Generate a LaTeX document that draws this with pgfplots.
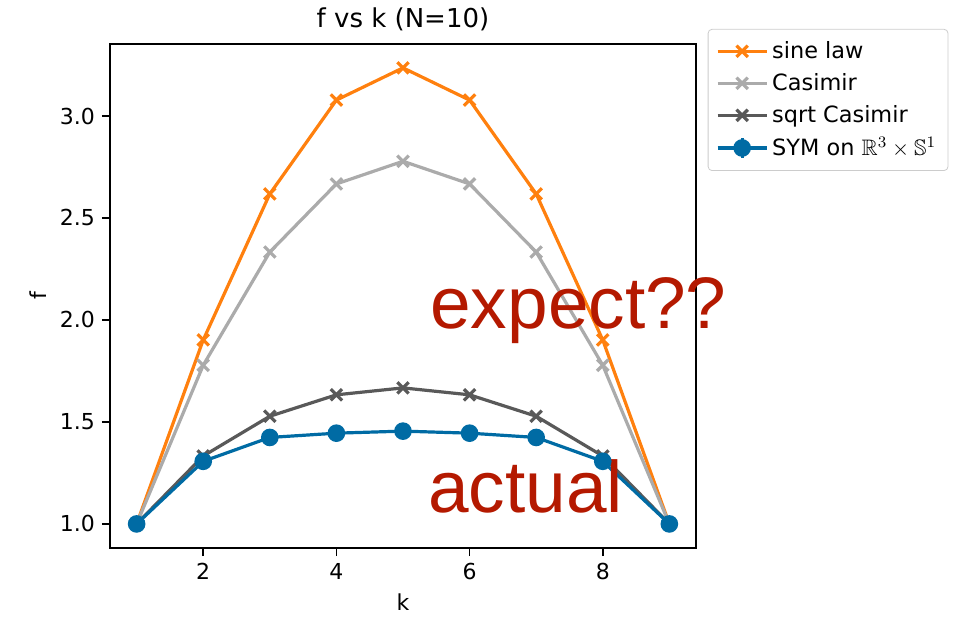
\documentclass[border=0pt]{standalone}
\usepackage{pgfplots}
\pgfplotsset{compat=1.18}
\usepackage{amssymb}
\usepackage{fontspec}
\setmainfont{DejaVu Sans}
\newfontfamily\bigfont{Liberation Sans}

\definecolor{cbblue}{HTML}{006BA4}
\definecolor{cborange}{HTML}{FF800E}
\definecolor{cblgray}{HTML}{ABABAB}
\definecolor{cbdgray}{HTML}{595959}
\definecolor{annred}{RGB}{180,25,0}

\begin{document}
\begin{tikzpicture}
\begin{axis}[
  at={(0,0)}, anchor=south west,
  scale only axis,
  width=293pt, height=252pt,
  xmin=0.6, xmax=9.4,
  ymin=0.882, ymax=3.353,
  clip=false,
  xtick={2,4,6,8},
  ytick={1.0,1.5,2.0,2.5,3.0},
  yticklabel style={/pgf/number format/.cd, fixed, fixed zerofill, precision=1},
  tick align=outside,
  tick pos=left,
  major tick length=4pt,
  ticklabel style={font=\fontsize{11}{13}\selectfont},
  /pgf/number format/assume math mode=true,
  title={f vs k (N=10)},
  title style={font=\fontsize{13}{15}\selectfont, yshift=-3pt},
  xlabel={k}, ylabel={f},
  label style={font=\fontsize{11}{13}\selectfont},
  axis line style={line width=0.8pt},
  every tick/.style={black, line width=0.8pt},
  legend style={at={(rel axis cs:1.02,1.03)}, anchor=north west,
    draw=black!20, rounded corners=2pt, font=\fontsize{11.2}{14}\selectfont,
    row sep=2pt, inner sep=4pt,
    /tikz/every even column/.append style={column sep=4pt}},
  legend cell align=left,
  legend image code/.code={
    \draw[mark repeat=2, mark phase=2] plot coordinates {(0cm,0cm) (0.43cm,0cm) (0.86cm,0cm)};
  },
  legend image post style={line width=1.6pt},
]
\addplot[cborange, line width=1.6pt, mark=x, mark size=4pt]
  coordinates {(1,1.0) (2,1.902) (3,2.618) (4,3.078) (5,3.236) (6,3.078) (7,2.618) (8,1.902) (9,1.0)};
\addlegendentry{sine law}
\addplot[cblgray, line width=1.6pt, mark=x, mark size=4pt]
  coordinates {(1,1.0) (2,1.778) (3,2.333) (4,2.667) (5,2.778) (6,2.667) (7,2.333) (8,1.778) (9,1.0)};
\addlegendentry{Casimir}
\addplot[cbdgray, line width=1.6pt, mark=x, mark size=4pt]
  coordinates {(1,1.0) (2,1.333) (3,1.528) (4,1.633) (5,1.667) (6,1.633) (7,1.528) (8,1.333) (9,1.0)};
\addlegendentry{sqrt Casimir}
\addplot[cbblue, line width=1.6pt, mark=*, mark size=3.6pt,
  legend image code/.code={
    \draw[line width=1.6pt] (0cm,0cm) -- (0.86cm,0cm);
    \draw[line width=1.6pt] (0.43cm,-5pt) -- (0.43cm,5pt);
    \fill (0.43cm,0cm) circle (3.6pt);
  }]
  coordinates {(1,1.0) (2,1.307) (3,1.424) (4,1.445) (5,1.455) (6,1.445) (7,1.424) (8,1.307) (9,1.0)};
\addlegendentry{SYM on $\mathbb{R}^3\times\mathbb{S}^1$}
\node[anchor=base west, inner sep=0pt, text=annred, font=\bigfont\fontsize{36.5}{40}\selectfont]
  at (rel axis cs:0.546,0.4365) {expect??};
\node[anchor=base west, inner sep=0pt, text=annred, font=\bigfont\fontsize{36.5}{40}\selectfont]
  at (rel axis cs:0.5427,0.0714) {actual};
\end{axis}
\pgfresetboundingbox
\path (-55pt,-34.5pt) rectangle (425pt,274pt);
\end{tikzpicture}
\end{document}
